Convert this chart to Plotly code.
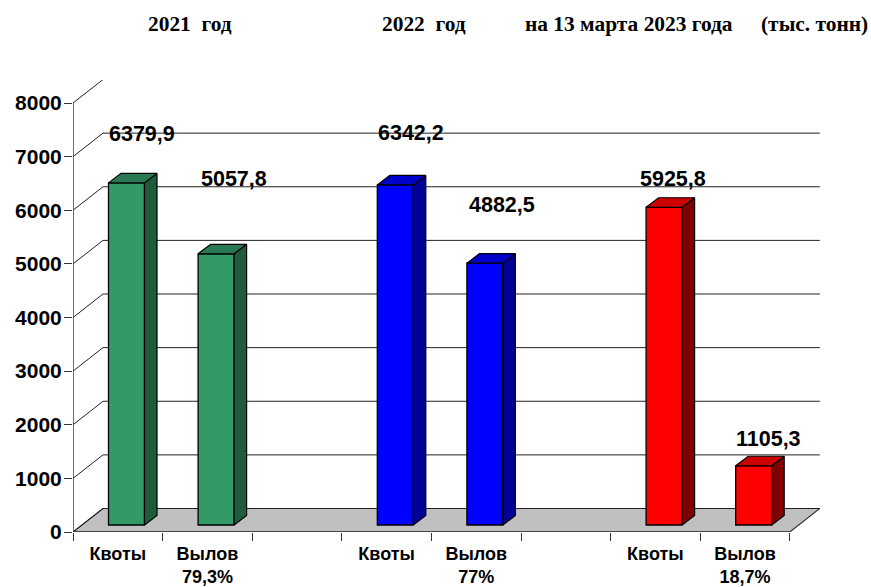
import plotly.graph_objects as go

# ---- data ----
slots = [0, 1, 3, 4, 6, 7]
bar_names = ["Квоты", "Вылов<br>79,3%", "Квоты", "Вылов<br>77%", "Квоты", "Вылов<br>18,7%"]
values = [6379.9, 5057.8, 6342.2, 4882.5, 5925.8, 1105.3]
value_labels = ["6379,9", "5057,8", "6342,2", "4882,5", "5925,8", "1105,3"]
front_colors = ["#339966", "#339966", "#0000FF", "#0000FF", "#FF0000", "#FF0000"]
top_colors = ["#297A52", "#297A52", "#0000CC", "#0000CC", "#CC0000", "#CC0000"]
side_colors = ["#1F5C3D", "#1F5C3D", "#000099", "#000099", "#800000", "#800000"]
y_ticks = [0, 1000, 2000, 3000, 4000, 5000, 6000, 7000, 8000]
headers = ["2021&nbsp;&nbsp;год", "2022&nbsp;&nbsp;год", "на 13 марта 2023 года", "(тыс. тонн)"]
header_centres = [190, 423.5, 629, 814]
label_shift_x = [15, 18, 16, 17.5, 8.5, 15]
label_shift_y = [49, 74.5, 52, 58, 28, 27]

# ---- geometry of the drawing ----
W, H = 871, 587
L, R, T, B = 73, 820, 80, 532
slot_px = 89.6
unit_px = 429 / 8000
n_slots = 8
wall_dx = 30 / slot_px
wall_dy = 23.5 / unit_px
bar_w = 36 / slot_px
bar_shift = 8.7 / slot_px
bar_base = 7 / unit_px
depth_dx = 12.5 / slot_px
depth_dy = 9.5 / unit_px
x_max = (R - L) / slot_px
y_max = (B - T) / unit_px
FONT = "Liberation Sans"

centres = [s + 0.5 + bar_shift for s in slots]

fig = go.Figure()

# floor + wall gridlines, behind everything
shapes = [dict(
    type="path", layer="below", xref="x", yref="y",
    path=f"M0,0 L{n_slots},0 L{n_slots + wall_dx},{wall_dy} L{wall_dx},{wall_dy} Z",
    fillcolor="#C0C0C0", line=dict(color="#333333", width=1.2),
)]
for t in y_ticks:
    shapes.append(dict(
        type="path", layer="below", xref="x", yref="y",
        path=f"M0,{t} L{wall_dx},{t + wall_dy} L{n_slots + wall_dx},{t + wall_dy}",
        line=dict(color="#222222", width=1),
    ))

# front faces
fig.add_trace(go.Bar(
    x=centres, y=values, base=[bar_base] * len(values), width=bar_w,
    marker=dict(color=front_colors, line=dict(color="black", width=1.3)),
    hoverinfo="skip", showlegend=False,
))

# side and top faces
for c, v, tc, sc in zip(centres, values, top_colors, side_colors):
    x0, x1 = c - bar_w / 2, c + bar_w / 2
    y0, y1 = bar_base, bar_base + v
    fig.add_trace(go.Scatter(
        x=[x1, x1 + depth_dx, x1 + depth_dx, x1, x1],
        y=[y0, y0 + depth_dy, y1 + depth_dy, y1, y0],
        mode="lines", fill="toself", fillcolor=sc,
        line=dict(color="black", width=1.2), hoverinfo="skip", showlegend=False,
    ))
    fig.add_trace(go.Scatter(
        x=[x0, x1, x1 + depth_dx, x0 + depth_dx, x0],
        y=[y1, y1, y1 + depth_dy, y1 + depth_dy, y1],
        mode="lines", fill="toself", fillcolor=tc,
        line=dict(color="black", width=1.2), hoverinfo="skip", showlegend=False,
    ))

# axis lines
fig.add_trace(go.Scatter(x=[0, 0, n_slots], y=[y_ticks[-1], 0, 0], mode="lines",
                         line=dict(color="#333333", width=1.4), cliponaxis=False,
                         hoverinfo="skip", showlegend=False))

annotations = []
for c, v, lab, sx, sy in zip(centres, values, value_labels, label_shift_x, label_shift_y):
    annotations.append(dict(
        x=c, y=bar_base + v, text=f"<b>{lab}</b>", showarrow=False,
        xshift=sx, yshift=sy, xanchor="center", yanchor="middle",
        font=dict(family=FONT, size=21.5, color="black"),
    ))
for text, cx in zip(headers, header_centres):
    annotations.append(dict(
        xref="paper", yref="paper", x=(cx - L) / (R - L), y=(B - 24) / (B - T),
        text=f"<b>{text}</b>", showarrow=False, xanchor="center", yanchor="middle",
        font=dict(family="Liberation Serif", size=21.4, color="black"),
    ))

fig.update_layout(
    width=W, height=H, autosize=False,
    margin=dict(l=L, r=W - R, t=T, b=H - B, pad=0, autoexpand=False),
    paper_bgcolor="white", plot_bgcolor="white",
    showlegend=False, barmode="overlay",
    shapes=shapes, annotations=annotations,
    xaxis=dict(
        range=[0, x_max], tickmode="array", automargin=False,
        tickvals=[s + 0.5 for s in slots], ticktext=[f"<b>{n}</b>" for n in bar_names],
        ticks="", showgrid=False, zeroline=False, showline=False,
        ticklabelstandoff=9,
        tickfont=dict(family=FONT, size=18, color="black"),
        minor=dict(tickmode="array", tickvals=list(range(n_slots + 1)), ticks="outside",
                   ticklen=8, tickwidth=1.2, tickcolor="#333333", showgrid=False),
    ),
    yaxis=dict(
        range=[0, y_max], tickmode="array", tickvals=y_ticks, automargin=False,
        ticktext=[f"<b>{t}</b>" for t in y_ticks],
        ticks="outside", ticklen=8, tickwidth=1.2, tickcolor="#333333",
        showgrid=False, zeroline=False, showline=False,
        ticklabelstandoff=-2,
        tickfont=dict(family=FONT, size=21, color="black"),
    ),
)

fig.write_html("out.html", config=dict(displayModeBar=False),
               post_script="document.body.style.margin='0';")
